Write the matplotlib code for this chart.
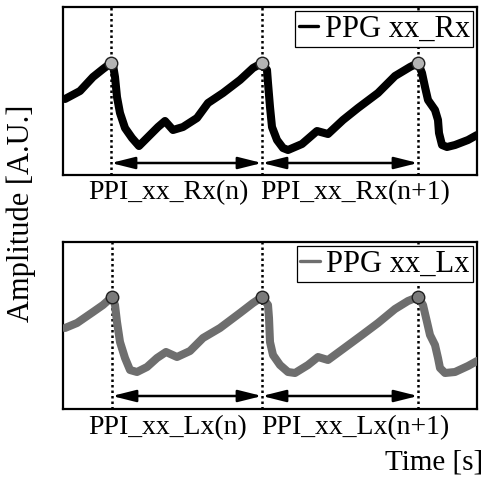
import matplotlib
matplotlib.use("Agg")
import matplotlib.pyplot as plt
import numpy as np

plt.rcParams['font.family'] = ['Liberation Serif', 'DejaVu Serif']

# ---- data (time in s, amplitude in arbitrary units) ----
t_rx = [0.02, 0.17, 0.30, 0.40, 0.48, 0.50, 0.52, 0.54, 0.57, 0.62, 0.69, 0.76,
        0.85, 0.95, 1.02, 1.10, 1.20, 1.34, 1.45, 1.60, 1.77, 1.90, 1.99,
        2.04, 2.05, 2.07, 2.09, 2.14, 2.20, 2.25, 2.39, 2.54, 2.65, 2.80, 2.95,
        3.15, 3.32, 3.47, 3.55, 3.59, 3.62, 3.65, 3.72, 3.75, 3.76, 3.79, 3.84,
        3.92, 4.05, 4.14]
a_rx = [76, 84, 98, 106, 112, 110, 98, 78, 62, 47, 37, 29,
        38, 48, 54, 45, 48, 57, 72, 82, 95, 107, 112,
        105, 92, 68, 48, 35, 27, 25, 31, 44, 41, 55, 67,
        82, 99, 108, 112, 102, 88, 75, 65, 55, 42, 30, 28,
        30, 35, 40]
pk_rx = [4, 22, 38]

t_lx = [0.02, 0.14, 0.30, 0.40, 0.49, 0.52, 0.54, 0.57, 0.62, 0.67, 0.74, 0.84,
        0.94, 1.03, 1.14, 1.27, 1.40, 1.57, 1.77, 1.90, 1.99,
        2.05, 2.06, 2.07, 2.10, 2.17, 2.25, 2.32, 2.45, 2.55, 2.65, 2.80, 2.99,
        3.15, 3.32, 3.45, 3.55, 3.60, 3.64, 3.67, 3.72, 3.75, 3.77, 3.82, 3.92,
        4.05, 4.14]
a_lx = [81, 86, 97, 104, 112, 104, 87, 67, 51, 39, 37, 42,
        51, 57, 52, 58, 71, 81, 96, 106, 112,
        104, 91, 67, 54, 44, 37, 36, 44, 52, 49, 60, 74,
        86, 100, 108, 112, 104, 87, 74, 64, 51, 41, 36, 37,
        43, 48]
pk_lx = [4, 20, 36]

labels_rx = ["PPI_xx_Rx(n)", "PPI_xx_Rx(n+1)"]
labels_lx = ["PPI_xx_Lx(n)", "PPI_xx_Lx(n+1)"]

W, H = 485, 483
fig = plt.figure(figsize=(W / 100, H / 100), dpi=100)

def panel(rect, t, a, pk, color, mface, legend, labels, ylim, arrow_y, label_base_px):
    ax = fig.add_axes(rect)
    t = np.asarray(t); a = np.asarray(a)
    ax.plot(t, a, color=color, lw=5.8, solid_capstyle='round', solid_joinstyle='round',
            label=legend, zorder=3)
    for i in pk:
        ax.axvline(t[i], color='black', lw=1.8, ls=(0, (1, 1.2)), zorder=2)
    ax.plot(t[pk], a[pk], 'o', ms=9, mfc=mface, mec='#202020', mew=1.0, zorder=4)
    for j in range(len(pk) - 1):
        ax.annotate('', xy=(t[pk[j + 1]], arrow_y), xytext=(t[pk[j]], arrow_y),
                    arrowprops=dict(arrowstyle='<|-|>,head_length=0.8,head_width=0.2',
                                    color='black', lw=1.8, shrinkA=0, shrinkB=0,
                                    mutation_scale=18), zorder=5)
    ax.set_xlim(0, 4.14)
    ax.set_ylim(0, ylim)
    ax.set_xticks([]); ax.set_yticks([])
    for s in ax.spines.values():
        s.set_linewidth(1.6)
    leg = ax.legend(loc='upper right', fontsize=22, handlelength=0.65, handletextpad=0.2,
                    borderpad=0.12, borderaxespad=0.12, frameon=True, fancybox=False,
                    framealpha=1)
    leg.get_frame().set_edgecolor('black')
    leg.get_frame().set_linewidth(0.9)
    for ln in leg.get_lines():
        ln.set_linewidth(2.4)
    xs = [168, 355]
    for lab, xp in zip(labels, xs):
        fig.text(xp / W, 1 - label_base_px / H, lab, ha='center', va='baseline', fontsize=20)
    return ax

panel([63 / W, 1 - 175 / H, 414 / W, 168 / H], t_rx, a_rx, pk_rx, 'black', '#b4b4b4',
      'PPG xx_Rx', labels_rx, 168, 12, 199)
panel([63 / W, 1 - 409 / H, 414 / W, 167 / H], t_lx, a_lx, pk_lx, '#6e6e6e', '#7a7a7a',
      'PPG xx_Lx', labels_lx, 167, 13, 434)

fig.text(21 / W, 1 - 213 / H, 'Amplitude [A.U.]', rotation=90, ha='center', va='center',
         fontsize=22)
fig.text(483 / W, 1 - 470 / H, 'Time [s]', ha='right', va='baseline', fontsize=21)

fig.savefig('out.png', dpi=100)
